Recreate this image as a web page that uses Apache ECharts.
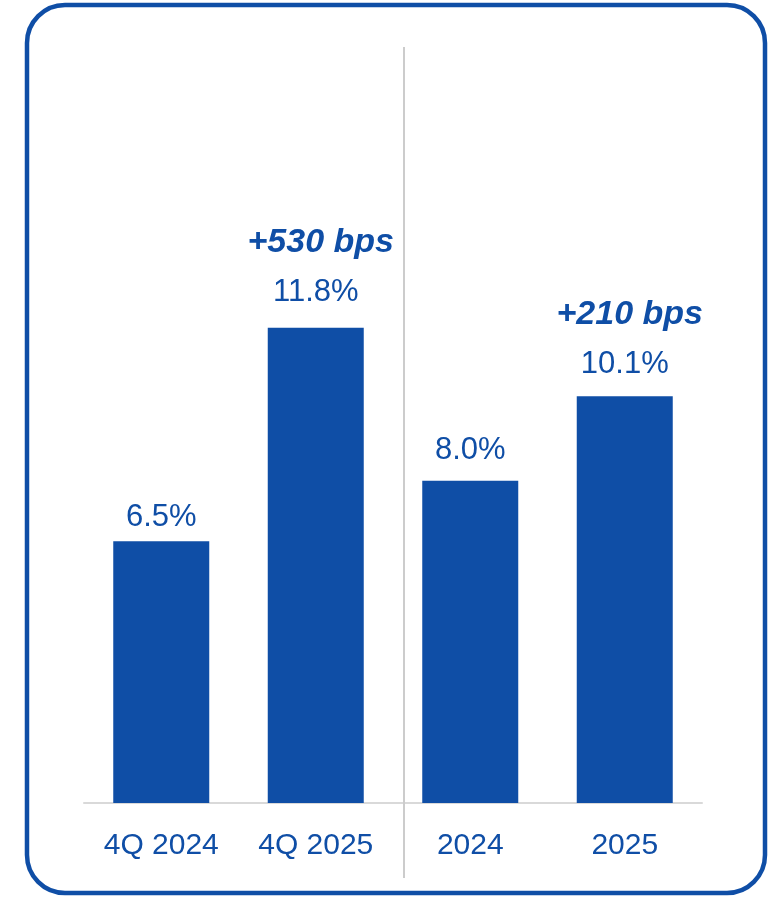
<!DOCTYPE html>
<html>
<head>
<meta charset="utf-8">
<script src="https://cdn.jsdelivr.net/npm/echarts@6/dist/echarts.min.js"></script>
<style>
html,body{margin:0;padding:0;background:#fff;}
#chart{width:772px;height:899px;}
</style>
</head>
<body>
<div id="chart"></div>
<script>
var categories = ["4Q 2024", "4Q 2025", "2024", "2025"];
var values = [6.5, 11.8, 8.0, 10.1];
var valueLabels = ["6.5%", "11.8%", "8.0%", "10.1%"];
var annotations = ["", "+530 bps", "", "+210 bps"];

var BLUE = "#0f4ea6";
var FONT = "'Liberation Sans', Arial, sans-serif";
var labelGap = [7, 18, 13, 15];

var chart = echarts.init(document.getElementById("chart"), null, {renderer: "canvas"});

var seriesData = values.map(function (v, i) {
  return {
    value: v,
    label: {
      distance: labelGap[i],
      formatter: annotations[i] ? "{a|" + annotations[i] + "}\n{b|" + valueLabels[i] + "}" : "{b|" + valueLabels[i] + "}"
    }
  };
});

chart.setOption({
  animation: false,
  backgroundColor: "#ffffff",
  grid: {left: 84, right: 70, top: 78, bottom: 96},
  xAxis: {
    type: "category",
    data: categories,
    axisLine: {show: true, lineStyle: {color: "#d9d9d9", width: 2}},
    axisTick: {show: false},
    axisLabel: {color: BLUE, fontFamily: FONT, fontSize: 30, margin: 28}
  },
  yAxis: {
    type: "value",
    min: 0,
    max: 18,
    show: false,
    splitLine: {show: false}
  },
  series: [{
    type: "bar",
    data: seriesData,
    barWidth: 96,
    itemStyle: {color: BLUE},
    label: {
      show: true,
      position: "top",
      color: BLUE,
      fontFamily: FONT,
      rich: {
        a: {fontSize: 34, fontWeight: "bold", fontStyle: "italic", color: BLUE, fontFamily: FONT, lineHeight: 66, padding: [0, 0, 0, 10]},
        b: {fontSize: 31, color: BLUE, fontFamily: FONT, lineHeight: 34}
      }
    }
  }],
  graphic: [
    {
      type: "rect",
      shape: {x: 27, y: 5, width: 738, height: 888, r: 38},
      style: {fill: "none", stroke: BLUE, lineWidth: 4.5},
      silent: true,
      z: 10
    },
    {
      type: "line",
      shape: {x1: 404, y1: 47, x2: 404, y2: 878},
      style: {stroke: "#cccccc", lineWidth: 2},
      silent: true,
      z: 5
    }
  ]
});
</script>
</body>
</html>
